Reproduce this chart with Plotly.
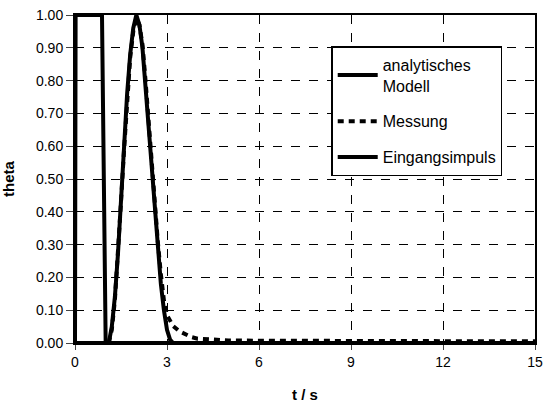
import plotly.graph_objects as go

# Eingangsimpuls (input pulse)
t_pulse = [0.0, 0.02, 0.88, 1.0, 15.0]
theta_pulse = [0.0, 1.0, 1.0, 0.0, 0.0]

# analytisches Modell
t_model = [0.0, 1.1, 1.2, 1.3, 1.4, 1.5, 1.6, 1.7, 1.8, 1.9, 2.0, 2.1, 2.2, 2.3, 2.4, 2.5,
           2.6, 2.7, 2.8, 2.9, 3.0, 3.1, 3.2, 4.0, 15.0]
theta_model = [0.0, 0.0, 0.05, 0.14, 0.27, 0.44, 0.60, 0.76, 0.88, 0.96, 1.0, 0.97, 0.90, 0.78,
               0.64, 0.51, 0.39, 0.28, 0.18, 0.10, 0.04, 0.01, 0.0, 0.0, 0.0]

# Messung (measurement)
t_meas = [1.1, 1.2, 1.3, 1.4, 1.5, 1.6, 1.7, 1.8, 1.9, 2.0, 2.1, 2.2, 2.3, 2.4, 2.5, 2.6,
          2.7, 2.8, 2.9, 3.0, 3.1, 3.2, 3.4, 3.6, 3.8, 4.0, 4.5, 5.0, 6.0, 8.0, 10.0, 12.0, 15.0]
theta_meas = [0.0, 0.04, 0.13, 0.26, 0.43, 0.59, 0.75, 0.87, 0.95, 0.99, 0.97, 0.91, 0.80,
              0.67, 0.54, 0.42, 0.31, 0.21, 0.13, 0.085, 0.065, 0.052, 0.036, 0.026, 0.018,
              0.013, 0.010, 0.008, 0.007, 0.006, 0.005, 0.005, 0.005]

x_ticks = [0, 3, 6, 9, 12, 15]
y_ticks = [0.0, 0.1, 0.2, 0.3, 0.4, 0.5, 0.6, 0.7, 0.8, 0.9, 1.0]

fig = go.Figure()
fig.add_trace(go.Scatter(x=t_model, y=theta_model, mode="lines", name="analytisches<br>Modell",
                         line=dict(color="black", width=4), legendgroup="a"))
fig.add_trace(go.Scatter(x=t_meas, y=theta_meas, mode="lines", name="Messung",
                         line=dict(color="black", width=4, dash="6px,5px"), legendgroup="b"))
fig.add_trace(go.Scatter(x=t_pulse, y=theta_pulse, mode="lines", name="Eingangsimpuls",
                         line=dict(color="black", width=4), legendgroup="c"))

font = "Liberation Sans, Arial, sans-serif"
fig.update_layout(
    width=543, height=403,
    margin=dict(l=75, r=8, t=15, b=60),
    paper_bgcolor="white", plot_bgcolor="white",
    font=dict(family=font, size=14, color="black"),
    showlegend=True,
    legend=dict(x=0.557, y=0.905, xanchor="left", yanchor="top",
                bordercolor="black", borderwidth=1.5, bgcolor="white",
                font=dict(family=font, size=16, color="black"),
                traceorder="grouped", tracegroupgap=12, itemwidth=40),
    xaxis=dict(range=[0, 15], tickvals=x_ticks, ticks="outside", ticklen=5,
               showline=True, linecolor="black", linewidth=1.5, mirror=True,
               showgrid=True, gridcolor="black", griddash="dash", gridwidth=1,
               zeroline=False, automargin=False, ticklabeloverflow="allow",
               title=dict(text="<b>t / s</b>", standoff=22, font=dict(size=15))),
    yaxis=dict(range=[0, 1.0], tickvals=y_ticks, tickformat=".2f", ticks="outside", ticklen=7,
               showline=True, linecolor="black", linewidth=2, mirror=True,
               showgrid=True, gridcolor="black", griddash="dash", gridwidth=1,
               zeroline=False, automargin=False,
               title=dict(text="<b>theta</b>", standoff=18, font=dict(size=15))),
)
fig.write_html("out.html")
